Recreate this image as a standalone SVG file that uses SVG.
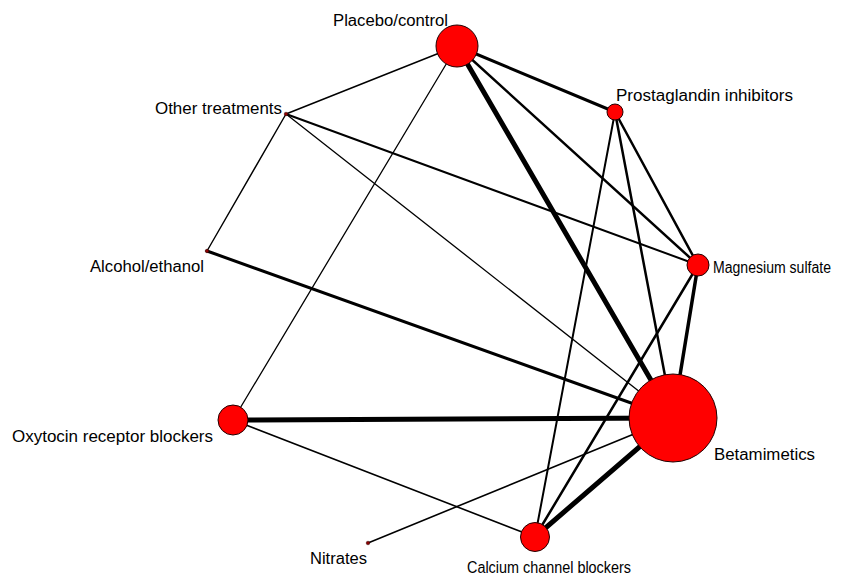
<svg xmlns="http://www.w3.org/2000/svg" width="860" height="578" viewBox="0 0 860 578">
<style>
.e{stroke:#000;fill:none;stroke-linecap:round}
.n{fill:#ff0000;stroke:#200000;stroke-width:1}
.d{fill:#8b0000;stroke:#300000;stroke-width:0.5}
.t{font-family:"Liberation Sans",Arial,sans-serif;font-size:16px;fill:#000}
</style>
<rect width="860" height="578" fill="#fff"/>
<g id="edges">
<line class="e" x1="457" y1="46" x2="673" y2="418" stroke-width="5"/>
<line class="e" x1="233" y1="420" x2="673" y2="418" stroke-width="5"/>
<line class="e" x1="535" y1="537" x2="673" y2="418" stroke-width="5"/>
<line class="e" x1="207" y1="251" x2="673" y2="418" stroke-width="3"/>
<line class="e" x1="698" y1="265" x2="673" y2="418" stroke-width="3.5"/>
<line class="e" x1="457" y1="46" x2="615" y2="112" stroke-width="3"/>
<line class="e" x1="457" y1="46" x2="698" y2="265" stroke-width="2.5"/>
<line class="e" x1="615" y1="112" x2="698" y2="265" stroke-width="2.5"/>
<line class="e" x1="615" y1="112" x2="673" y2="418" stroke-width="2.5"/>
<line class="e" x1="615" y1="112" x2="535" y2="537" stroke-width="2"/>
<line class="e" x1="698" y1="265" x2="535" y2="537" stroke-width="2.5"/>
<line class="e" x1="286" y1="114" x2="698" y2="265" stroke-width="2"/>
<line class="e" x1="286" y1="114" x2="673" y2="418" stroke-width="1.3"/>
<line class="e" x1="286" y1="114" x2="457" y2="46" stroke-width="1.5"/>
<line class="e" x1="286" y1="114" x2="207" y2="251" stroke-width="1.4"/>
<line class="e" x1="457" y1="46" x2="233" y2="420" stroke-width="1.3"/>
<line class="e" x1="233" y1="420" x2="535" y2="537" stroke-width="1.6"/>
<line class="e" x1="368" y1="543" x2="673" y2="418" stroke-width="1.6"/>
</g>
<g id="placebo"><circle class="n" cx="457" cy="46" r="21"/><text class="t" x="333" y="26" textLength="115" lengthAdjust="spacingAndGlyphs">Placebo/control</text></g>
<g id="prostaglandin"><circle class="n" cx="615" cy="112" r="8"/><text class="t" x="616" y="101" textLength="177" lengthAdjust="spacingAndGlyphs">Prostaglandin inhibitors</text></g>
<g id="other"><circle class="d" cx="286" cy="114" r="1.8"/><text class="t" x="155" y="114" textLength="127" lengthAdjust="spacingAndGlyphs">Other treatments</text></g>
<g id="alcohol"><circle class="d" cx="207" cy="251" r="1.8"/><text class="t" x="90" y="272" textLength="114" lengthAdjust="spacingAndGlyphs">Alcohol/ethanol</text></g>
<g id="magnesium"><circle class="n" cx="698" cy="265" r="11"/><text class="t" x="713" y="273" textLength="118" lengthAdjust="spacingAndGlyphs">Magnesium sulfate</text></g>
<g id="oxytocin"><circle class="n" cx="233" cy="420" r="15"/><text class="t" x="12" y="442" textLength="201" lengthAdjust="spacingAndGlyphs">Oxytocin receptor blockers</text></g>
<g id="betamimetics"><circle class="n" cx="673" cy="418" r="44"/><text class="t" x="714" y="460" textLength="101" lengthAdjust="spacingAndGlyphs">Betamimetics</text></g>
<g id="nitrates"><circle class="d" cx="368" cy="543" r="1.8"/><text class="t" x="310" y="564" textLength="57" lengthAdjust="spacingAndGlyphs">Nitrates</text></g>
<g id="calcium"><circle class="n" cx="535" cy="537" r="14.5"/><text class="t" x="467" y="573" textLength="164" lengthAdjust="spacingAndGlyphs">Calcium channel blockers</text></g>
</svg>
